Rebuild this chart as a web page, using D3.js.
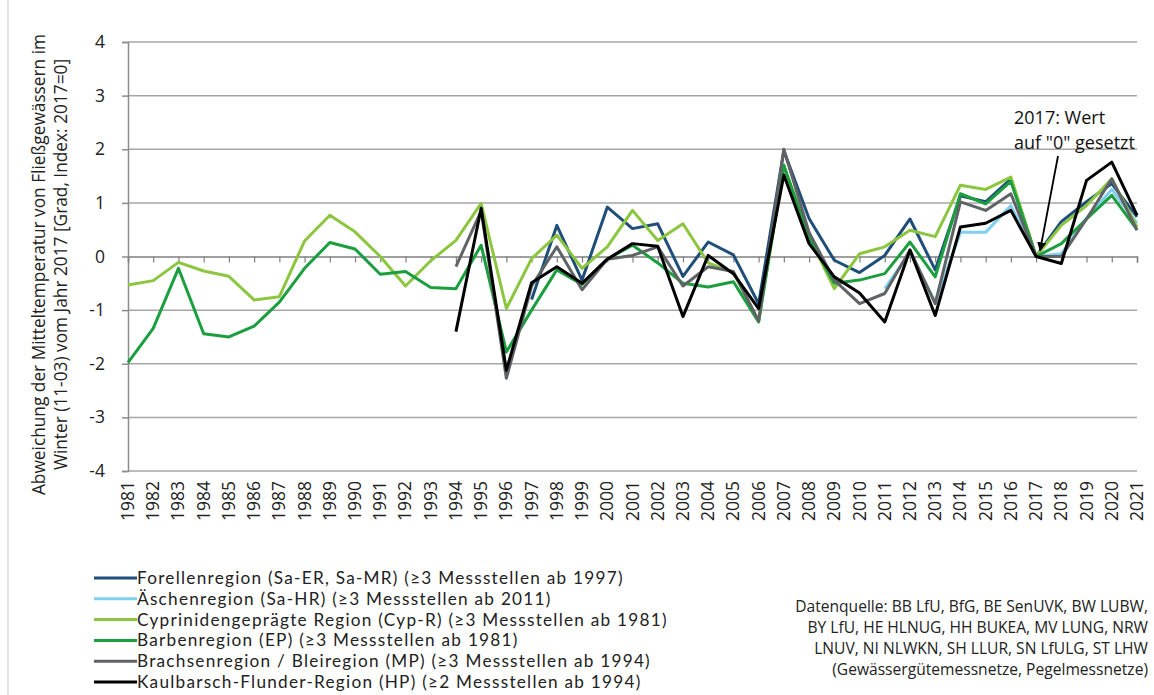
<!DOCTYPE html>
<html>
<head>
<meta charset="utf-8">
<script src="https://cdn.jsdelivr.net/npm/d3@7"></script>
<style>
  body { margin: 0; background: #fff; }
  svg { display: block; font-family: "Open Sans", sans-serif; }
</style>
</head>
<body>
<div id="chart"></div>
<script>
// Jahre 1981–2021, null = keine Messung
const years = d3.range(1981, 2022);
const yTicks = [-4, -3, -2, -1, 0, 1, 2, 3, 4];

const pad = n => Array(n).fill(null);

const forellen = pad(16).concat([
  -0.80, 0.58, -0.44, 0.92, 0.52, 0.61, -0.37, 0.27, 0.03, -0.88,
  1.97, 0.71, -0.07, -0.30, 0.02, 0.70, -0.25, 1.13, 1.02, 1.45,
  0.00, 0.65, 1.02, 1.36, 0.74
]);
const aeschen = pad(30).concat([
  -0.60, 0.08, -0.85, 0.45, 0.45, 0.95, 0.00, 0.05, 0.72, 1.25, 0.62
]);
const cyprinid = [
  -0.53, -0.45, -0.11, -0.27, -0.37, -0.81, -0.75, 0.29, 0.77, 0.46,
  0.00, -0.55, -0.08, 0.30, 0.99, -0.97, -0.04, 0.40, -0.22, 0.18,
  0.86, 0.30, 0.61, -0.12, -0.30, -1.20, 1.68, 0.37, -0.60, 0.05,
  0.18, 0.49, 0.37, 1.33, 1.25, 1.48, 0.00, 0.58, 0.95, 1.45, 0.55
];
const barben = [
  -1.98, -1.34, -0.22, -1.44, -1.50, -1.30, -0.85, -0.22, 0.26, 0.14,
  -0.33, -0.28, -0.58, -0.60, 0.21, -1.78, -1.00, -0.25, -0.52, -0.05,
  0.21, -0.12, -0.50, -0.57, -0.47, -1.22, 1.70, 0.35, -0.50, -0.44,
  -0.32, 0.27, -0.38, 1.17, 0.98, 1.40, 0.00, 0.24, 0.70, 1.14, 0.50
];
const brachsen = pad(13).concat([
  -0.19, 0.85, -2.27, -0.55, 0.18, -0.62, -0.05, 0.02, 0.18, -0.55,
  -0.19, -0.28, -1.20, 2.00, 0.45, -0.44, -0.88, -0.69, 0.12, -0.88,
  1.02, 0.86, 1.17, 0.00, 0.00, 0.70, 1.45, 0.49
]);
const kaulbarsch = pad(13).concat([
  -1.40, 0.90, -2.12, -0.49, -0.19, -0.50, -0.05, 0.24, 0.19, -1.12,
  0.02, -0.32, -0.97, 1.52, 0.24, -0.38, -0.68, -1.22, 0.12, -1.10,
  0.55, 0.62, 0.86, 0.00, -0.13, 1.42, 1.76, 0.77
]);

const seriesNames = [
  "Forellenregion (Sa-ER, Sa-MR) (≥3 Messstellen ab 1997)",
  "Äschenregion (Sa-HR) (≥3 Messstellen ab 2011)",
  "Cyprinidengeprägte Region (Cyp-R) (≥3 Messstellen ab 1981)",
  "Barbenregion (EP) (≥3 Messstellen ab 1981)",
  "Brachsenregion / Bleiregion (MP) (≥3 Messstellen ab 1994)",
  "Kaulbarsch-Flunder-Region (HP) (≥2 Messstellen ab 1994)"
];
const seriesColors = ["#1f4e79", "#7fd0ee", "#8cc63f", "#1b9e3e", "#5f6366", "#000000"];
const seriesValues = [forellen, aeschen, cyprinid, barben, brachsen, kaulbarsch];

const sourceLines = [
  "Datenquelle: BB LfU, BfG, BE SenUVK, BW LUBW,",
  "BY LfU, HE HLNUG, HH BUKEA, MV LUNG, NRW",
  "LNUV, NI NLWKN, SH LLUR, SN LfULG, ST LHW",
  "(Gewässergütemessnetze, Pegelmessnetze)"
];

const W = 1154, H = 695;
const plot = { left: 128, right: 1137, top: 42, bottom: 471 };

const svg = d3.select('#chart').append('svg')
  .attr('width', W).attr('height', H);

// Rahmen links
svg.append('line')
  .attr('x1', 8).attr('x2', 8).attr('y1', 0).attr('y2', H)
  .attr('stroke', '#c8c8c8').attr('stroke-width', 1);

const x = d3.scalePoint().domain(years).range([plot.left, plot.right]).padding(0);
const y = d3.scaleLinear().domain([-4, 4]).range([plot.bottom, plot.top]);

// Gitternetz
svg.append('g')
  .selectAll('line')
  .data(yTicks.filter(d => d !== 0))
  .enter().append('line')
  .attr('x1', plot.left).attr('x2', plot.right)
  .attr('y1', d => y(d)).attr('y2', d => y(d))
  .attr('stroke', '#a6a6a6').attr('stroke-width', 1.5);

// Y-Achse
const yAxis = svg.append('g')
  .attr('transform', `translate(${plot.left},0)`)
  .call(d3.axisLeft(y).tickValues(yTicks).tickSize(6).tickPadding(17).tickFormat(d => String(d)));
yAxis.select('.domain').attr('stroke', '#8c8c8c').attr('stroke-width', 1.5);
yAxis.selectAll('.tick line').attr('stroke', '#8c8c8c').attr('stroke-width', 1.5);
yAxis.selectAll('text').attr('font-size', 17.5).attr('fill', '#222')
  .attr('font-family', '"Open Sans", sans-serif');

// Nulllinie mit Teilstrichen
const zeroAxis = svg.append('g')
  .attr('transform', `translate(0,${y(0)})`)
  .call(d3.axisBottom(x).tickSize(6).tickFormat(''));
zeroAxis.select('.domain').attr('stroke', '#808080').attr('stroke-width', 1.5);
zeroAxis.selectAll('.tick line').attr('stroke', '#808080').attr('stroke-width', 1.2);

// Jahresbeschriftung unten
svg.append('g')
  .selectAll('text')
  .data(years)
  .enter().append('text')
  .attr('transform', d => `translate(${x(d) + 6},${plot.bottom + 10}) rotate(-90)`)
  .attr('text-anchor', 'end')
  .attr('font-size', 17.5)
  .attr('fill', '#222')
  .text(d => d);

// Y-Achsentitel
const yTitle = svg.append('text')
  .attr('transform', `translate(45,${(plot.top + plot.bottom) / 2 + 8}) rotate(-90)`)
  .attr('text-anchor', 'middle')
  .attr('font-size', 17.3)
  .attr('fill', '#222');
yTitle.append('tspan').attr('x', 0).attr('dy', 0)
  .text('Abweichung der Mitteltemperatur von Fließgewässern im');
yTitle.append('tspan').attr('x', 0).attr('dy', 22)
  .text('Winter (11-03) vom Jahr 2017 [Grad, Index: 2017=0]');

// Linien
const line = d3.line()
  .defined(d => d != null)
  .x((d, i) => x(years[i]))
  .y(d => y(d));

svg.append('g')
  .selectAll('path')
  .data(seriesValues)
  .enter().append('path')
  .attr('d', d => line(d))
  .attr('fill', 'none')
  .attr('stroke', (d, i) => seriesColors[i])
  .attr('stroke-width', 3)
  .attr('stroke-linejoin', 'round');

// Anmerkung 2017
svg.append('defs').html(`
  <marker id="arrow" viewBox="0 0 10 10" refX="9" refY="5" markerWidth="5" markerHeight="5" orient="auto">
    <path d="M0,0 L10,5 L0,10 z" fill="#000"/>
  </marker>`);
svg.append('line')
  .attr('x1', 1058).attr('y1', 156)
  .attr('x2', x(2017) + 4).attr('y2', y(0) - 6)
  .attr('stroke', '#000').attr('stroke-width', 1.8)
  .attr('marker-end', 'url(#arrow)');
svg.append('text')
  .attr('x', 1014).attr('y', 124)
  .attr('font-size', 18).attr('fill', '#111')
  .text('2017: Wert');
svg.append('text')
  .attr('x', 1014).attr('y', 149)
  .attr('font-size', 18).attr('fill', '#111')
  .text('auf "0" gesetzt');

// Legende
const legend = svg.append('g').attr('transform', 'translate(94,578)');
const item = legend.selectAll('g')
  .data(seriesNames)
  .enter().append('g')
  .attr('transform', (d, i) => `translate(0,${i * 20.8})`);
item.append('line')
  .attr('x1', 0).attr('x2', 43)
  .attr('stroke', (d, i) => seriesColors[i])
  .attr('stroke-width', 3);
item.append('text')
  .attr('x', 43).attr('dy', '0.35em')
  .attr('font-family', 'Lato, sans-serif')
  .attr('font-size', 17.2).attr('letter-spacing', 1.25).attr('fill', '#222')
  .text(d => d);

// Datenquelle
svg.append('g')
  .selectAll('text')
  .data(sourceLines)
  .enter().append('text')
  .attr('x', 1148)
  .attr('y', (d, i) => 612 + i * 21)
  .attr('text-anchor', 'end')
  .attr('font-size', 15.6).attr('fill', '#222')
  .text(d => d);
</script>
</body>
</html>
